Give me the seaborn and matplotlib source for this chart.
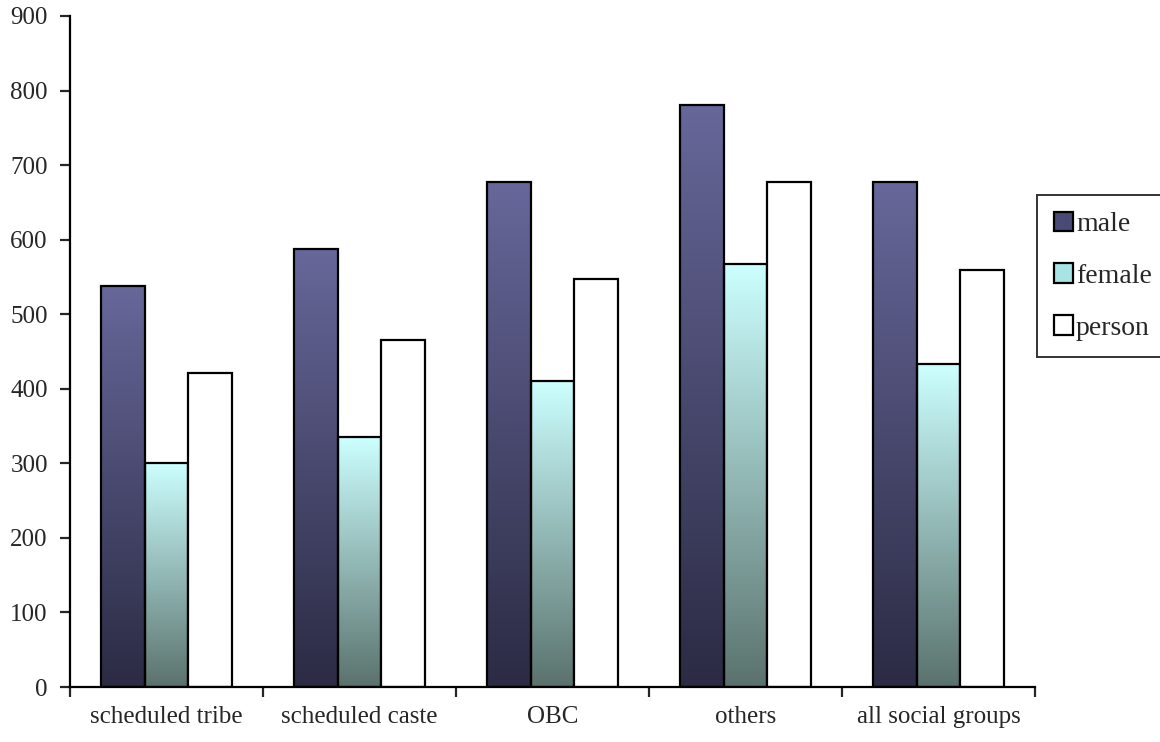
import numpy as np
import pandas as pd
import matplotlib
matplotlib.use("Agg")
import matplotlib.pyplot as plt
from matplotlib.colors import LinearSegmentedColormap
from matplotlib.patches import Patch
import seaborn as sns

# values
groups = ["scheduled tribe", "scheduled caste", "OBC", "others", "all social groups"]
male = [538, 587, 677, 781, 677]
female = [301, 335, 410, 567, 433]
person = [421, 465, 547, 677, 559]

df = pd.DataFrame({
    "group": groups * 3,
    "sex": ["male"] * 5 + ["female"] * 5 + ["person"] * 5,
    "value": male + female + person,
})

sns.set_style("white")
plt.rcParams["font.family"] = ["Liberation Serif", "DejaVu Serif"]

fig = plt.figure(figsize=(11.6, 7.42), dpi=100)
ax = fig.add_axes([70 / 1160, 1 - 687 / 742, (1035 - 70) / 1160, (687 - 16) / 742])

sns.barplot(data=df, x="group", y="value", hue="sex", order=groups,
            hue_order=["male", "female", "person"], width=0.68,
            palette=["#4a4a74", "#9fdcdc", "white"], edgecolor="black",
            linewidth=1.6, legend=False, ax=ax)

# vertical gradients (bottom colour -> top colour) per series
grads = {
    "male": LinearSegmentedColormap.from_list("m", ["#2b2b44", "#67679a"]),
    "female": LinearSegmentedColormap.from_list("f", ["#5a726d", "#ccffff"]),
}
grad_img = np.linspace(0, 1, 256).reshape(-1, 1)
for container, name in zip(ax.containers, ["male", "female", "person"]):
    if name not in grads:
        continue
    for bar in container:
        x0, y0 = bar.get_x(), bar.get_y()
        w, h = bar.get_width(), bar.get_height()
        bar.set_facecolor("none")
        im = ax.imshow(grad_img, cmap=grads[name], origin="lower", aspect="auto",
                       extent=[x0, x0 + w, y0, y0 + h], zorder=bar.get_zorder() - 0.1)
        im.set_clip_path(bar)

ax.set_xlim(-0.5, 4.5)
ax.set_ylim(0, 900)
ax.set_yticks(range(0, 901, 100))
ax.set_xlabel("")
ax.set_ylabel("")
sns.despine(ax=ax)
for s in ["left", "bottom"]:
    ax.spines[s].set_linewidth(1.6)
    ax.spines[s].set_color("black")

ax.set_xticks(np.arange(-0.5, 4.6, 1), minor=True)
ax.tick_params(axis="x", which="major", length=0, pad=14, labelsize=18)
ax.tick_params(axis="x", which="minor", length=7, width=1.6, direction="out", bottom=True)
ax.tick_params(axis="y", length=7, width=1.6, direction="out", left=True, labelsize=18, pad=9)

handles = [
    Patch(facecolor="#4a4a74", edgecolor="black", linewidth=1.6, label="male"),
    Patch(facecolor="#a8e4e4", edgecolor="black", linewidth=1.6, label="female"),
    Patch(facecolor="white", edgecolor="black", linewidth=1.6, label="person"),
]
leg = fig.legend(handles=handles, loc="upper left", bbox_to_anchor=(1037 / 1160, 1 - 195 / 742),
                 fontsize=20, handlelength=0.7, handleheight=0.7, handletextpad=0.1,
                 labelspacing=0.95, borderpad=0.6, borderaxespad=0, frameon=True, fancybox=False)
leg.get_frame().set_edgecolor("black")
leg.get_frame().set_linewidth(1.4)

fig.savefig("out.png", dpi=100)
